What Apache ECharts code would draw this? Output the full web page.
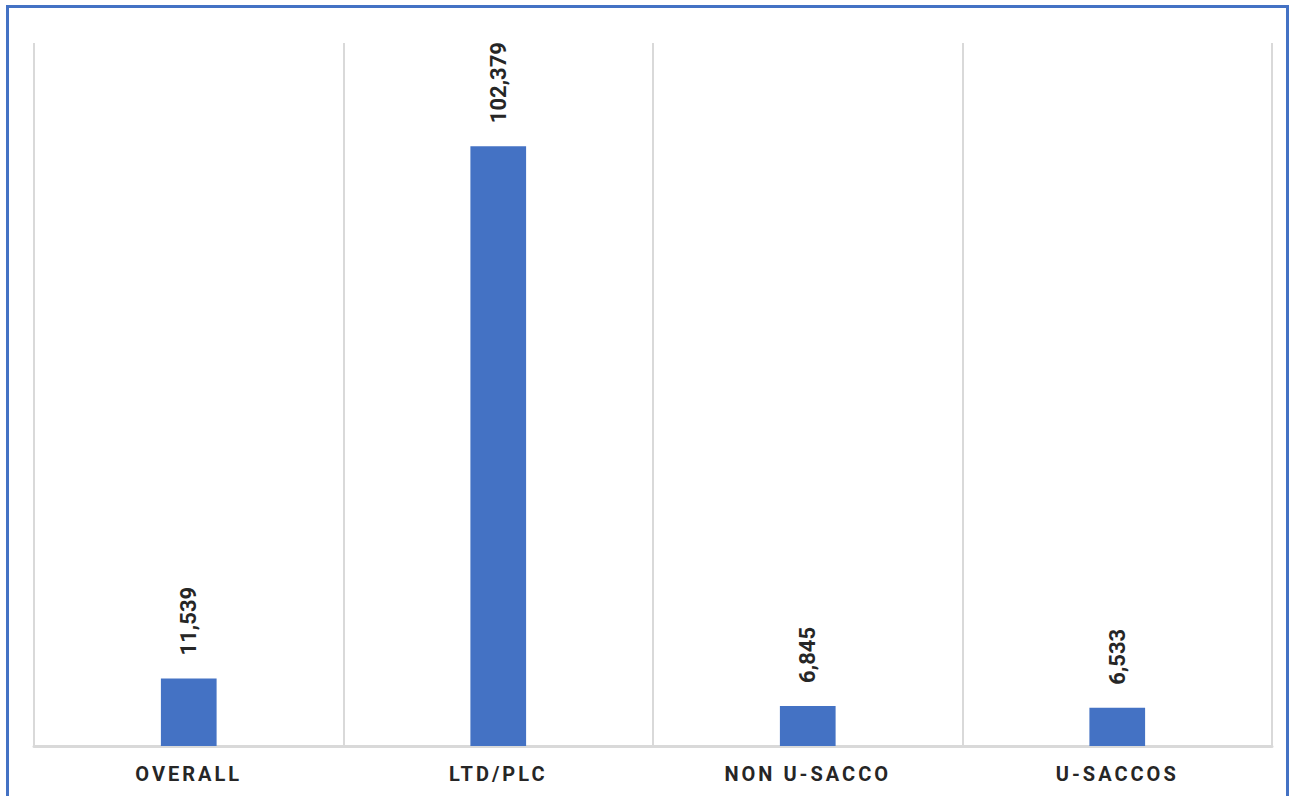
<!DOCTYPE html>
<html>
<head>
<meta charset="utf-8">
<script src="https://cdn.jsdelivr.net/npm/echarts@6/dist/echarts.min.js"></script>
<style>
  html, body { margin: 0; padding: 0; background: #fff; overflow: hidden; }
  #chart { position: absolute; left: 0; top: 0; width: 1293px; height: 796px; }
  #frame {
    position: absolute; left: 6px; top: 5px; width: 1283px; height: 820px;
    border: 3px solid #4472C4; box-sizing: border-box; pointer-events: none;
  }
  /* spaced-out capitals for the category names */
  #chart svg text[style*="Liberation"] { letter-spacing: 3px; }
</style>
</head>
<body>
<div id="chart"></div>
<div id="frame"></div>
<script>
const categories = ['OVERALL', 'LTD/PLC', 'NON U-SACCO', 'U-SACCOS'];
const values = [11539, 102379, 6845, 6533];

const chart = echarts.init(document.getElementById('chart'), null, { renderer: 'svg' });

chart.setOption({
  animation: false,
  grid: { left: 34, right: 21, top: 43, bottom: 50, containLabel: false },
  xAxis: {
    type: 'category',
    data: categories,
    boundaryGap: true,
    axisLine: { show: true, lineStyle: { color: '#d9d9d9', width: 3 } },
    axisTick: { show: false },
    splitLine: { show: true, lineStyle: { color: '#d9d9d9', width: 2 } },
    axisLabel: {
      margin: 18,
      color: '#262626',
      fontFamily: 'Roboto, Liberation Sans',
      fontWeight: 'bold',
      fontSize: 20
    }
  },
  yAxis: {
    type: 'value',
    min: 0,
    max: 120000,
    show: false,
    splitLine: { show: false }
  },
  series: [{
    type: 'bar',
    data: values,
    barWidth: '18%',
    itemStyle: { color: '#4472C4' },
    label: {
      show: true,
      position: 'top',
      rotate: 90,
      align: 'left',
      verticalAlign: 'middle',
      distance: 23,
      color: '#262626',
      fontFamily: 'Roboto',
      fontWeight: 'bold',
      fontSize: 22,
      formatter: p => p.value.toLocaleString('en-US')
    }
  }]
});
</script>
</body>
</html>
